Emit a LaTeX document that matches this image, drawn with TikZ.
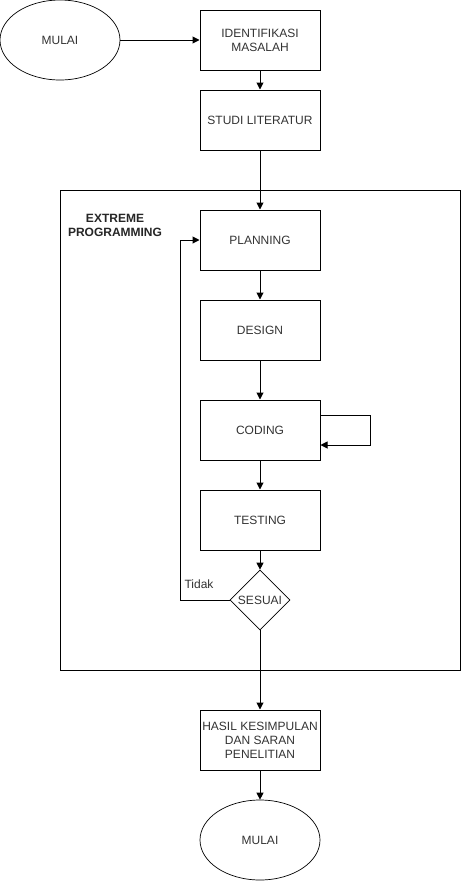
\documentclass[tikz,border=0pt]{standalone}
\usepackage{fontspec}
\setmainfont{Liberation Sans}
\usetikzlibrary{shapes.geometric,arrows.meta}
\begin{document}
\begin{tikzpicture}[x=1pt,y=-1pt,
  every node/.style={font=\fontsize{12}{14}\selectfont, text=black!80},
  procbox/.style={draw=black, line width=1pt, minimum width=120pt, minimum height=60pt, align=center, inner sep=1pt},
  term/.style={draw=black, ellipse, line width=0.7pt, minimum width=120pt, minimum height=80pt, inner sep=0pt},
  decision/.style={draw=black, diamond, line width=0.7pt, minimum width=60pt, minimum height=60pt, inner sep=0pt, aspect=1},
  conn/.style={line width=1pt, -{Triangle[length=7pt,width=7pt]}},
  plainline/.style={line width=1pt}]
\useasboundingbox (0,0) rectangle (461,881);
\fill[white] (0,0) rectangle (461,881);
% container
\node[draw=black, line width=1pt, minimum width=400pt, minimum height=480pt, inner sep=0pt] (xp) at (260,430) {};
\node[font=\bfseries\fontsize{12}{14}\selectfont, text=black!85, align=center] (xplabel) at (115,225) {EXTREME\\PROGRAMMING};
% nodes
\node[term] (start) at (60,40) {MULAI};
\node[procbox] (ident) at (260,40) {IDENTIFIKASI\\MASALAH};
\node[procbox] (studi) at (260,120) {STUDI LITERATUR};
\node[procbox] (plan) at (260,240) {PLANNING};
\node[procbox] (design) at (260,330) {DESIGN};
\node[procbox] (coding) at (260,430) {CODING};
\node[procbox] (testing) at (260,520) {TESTING};
\node[decision] (sesuai) at (260,600) {SESUAI};
\node[procbox] (hasil) at (260,740) {HASIL KESIMPULAN\\DAN SARAN\\PENELITIAN};
\node[term] (end) at (260,840) {MULAI};
\node (tidak) at (199,584) {Tidak};
% connectors
\draw[conn] (start) -- (ident);
\draw[conn] (ident) -- (studi);
\draw[conn] (studi) -- (plan);
\draw[conn] (plan) -- (design);
\draw[conn] (design) -- (coding);
\draw[conn] (coding) -- (testing);
\draw[conn] (testing) -- (sesuai);
\draw[conn] (sesuai) -- (hasil);
\draw[conn] (hasil) -- (end);
\coordinate (cl1) at (370,415);
\coordinate (cl2) at (370,445);
\draw[conn] (coding.east |- cl1) -- (cl1) -- (cl2) -- (coding.east |- cl2);
\coordinate (fb1) at (180,600);
\coordinate (fb2) at (180,240);
\draw[conn] (sesuai.west) -- (fb1) -- (fb2) -- (plan.west);
\end{tikzpicture}
\end{document}
